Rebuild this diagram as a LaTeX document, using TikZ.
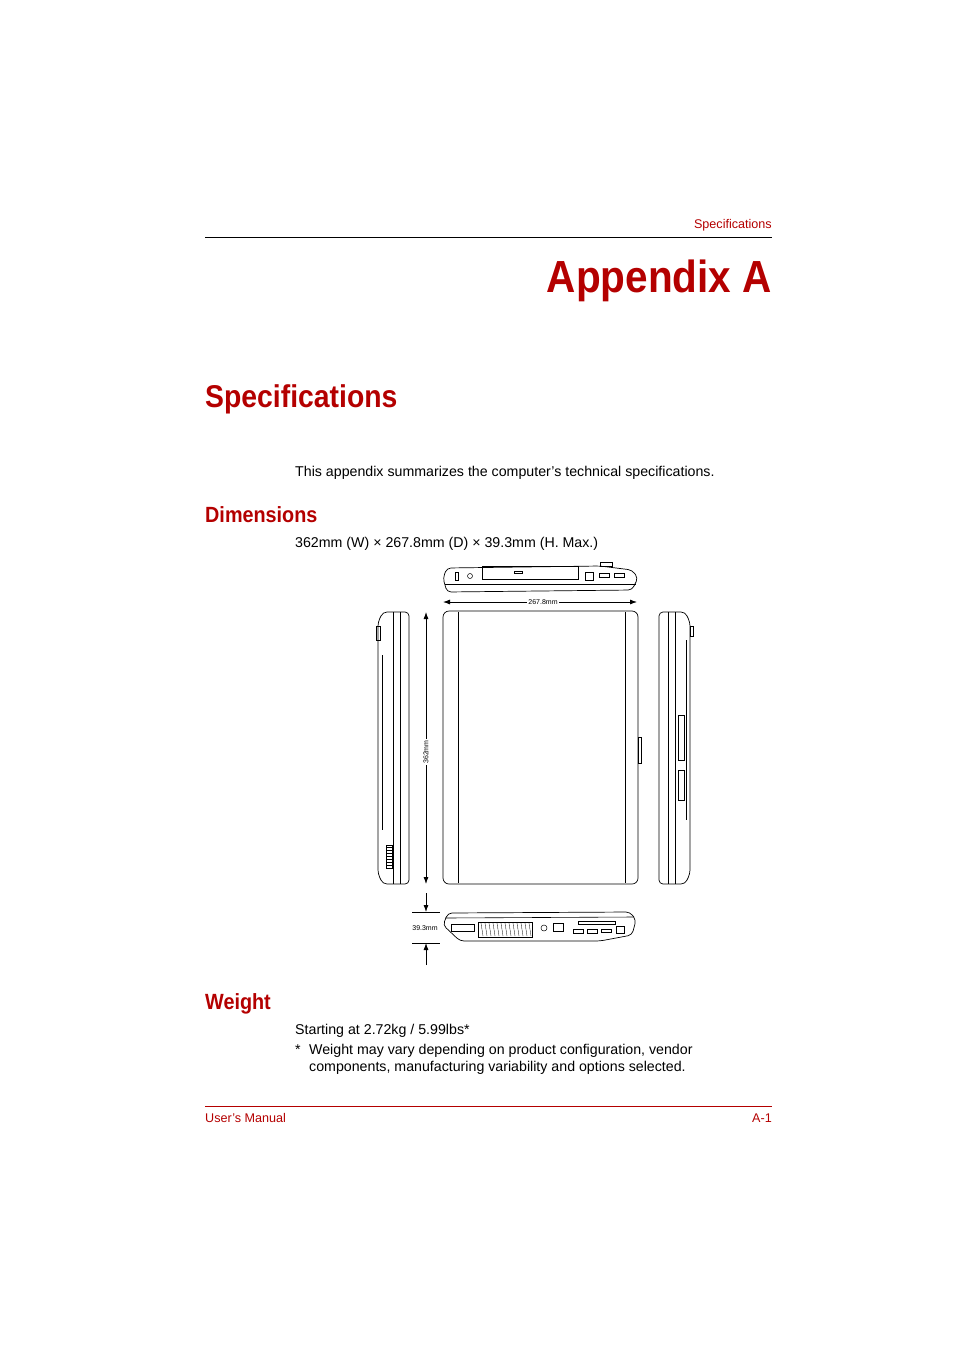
\documentclass[tikz,border=0pt]{standalone}
\usepackage{fontspec}
\setmainfont{Liberation Sans}
\newfontfamily\headfont[FakeStretch=0.9]{Liberation Sans}
\usetikzlibrary{arrows.meta}
\definecolor{tosred}{RGB}{180,0,0}
\begin{document}
\begin{tikzpicture}[x=1pt,y=-1pt,
  body/.style={anchor=base west,inner sep=0pt,font=\fontsize{14.2}{17}\selectfont},
  redhead/.style={anchor=base west,inner sep=0pt,text=tosred},
  dimtxt/.style={inner sep=1pt,fill=white,font=\fontsize{7}{8}\selectfont},
  dimarrow/.style={-{Latex[length=7pt,width=5pt]},line width=0.8pt},
  part/.style={line width=0.7pt,rounded corners=4pt}]
\useasboundingbox (0,0) rectangle (954,1351);
% header
\node[anchor=base east,inner sep=0pt,text=tosred,font=\fontsize{12.6}{14}\selectfont] (hdr) at (772,229) {Specifications};
\draw[line width=0.5pt] (205,237) -- (772,237);
\node[anchor=base east,inner sep=0pt,text=tosred,font=\headfont\fontsize{45}{50}\bfseries] (app) at (772,292) {Appendix A};
\node[redhead,font=\headfont\fontsize{31.5}{36}\bfseries] (spec) at (205,407) {Specifications};
\node[body] (intro) at (295,476) {This appendix summarizes the computer's technical specifications.};
\node[redhead,font=\headfont\fontsize{22}{26}\bfseries] (dim) at (205,522) {Dimensions};
\node[body] (dimtext) at (295,547) {362mm (W) × 267.8mm (D) × 39.3mm (H. Max.)};
% top edge view
\draw[part] (443,578) -- (447,568) -- (600,566) -- (632,570) -- (638,578) -- (632,590) -- (447,592) -- cycle;
\draw[line width=0.6pt] (445,584) -- (636,584);
\draw[line width=0.6pt] (482,579) rectangle (578,566);
\draw[line width=0.5pt] (455,572) rectangle (458,580);
\draw[line width=0.5pt] (470,576) circle (2.5);
\draw[line width=0.5pt] (514,571) rectangle (522,573);
\draw[line width=0.5pt] (585,572) rectangle (593,580);
\draw[line width=0.5pt] (599,573) rectangle (609,577);
\draw[line width=0.5pt] (614,573) rectangle (624,577);
\draw[line width=0.5pt] (600,566) rectangle (612,562);
% main view
\draw[part,rounded corners=6pt] (443,611) rectangle (638,884);
\draw[line width=0.5pt] (458,612) -- (458,883) (625,612) -- (625,883);
\draw[line width=0.5pt] (638,737) rectangle (641,763);
% left side view
\draw[part] (378,622) -- (383,612) -- (409,612) -- (409,884) -- (383,884) -- (378,874) -- cycle;
\draw[line width=0.5pt] (393,612) -- (393,884) (400,612) -- (400,884) (382,655) -- (382,830);
\draw[line width=0.5pt] (376,626) rectangle (380,640);
\draw[line width=0.4pt] (386,845) rectangle (392,868);
\foreach \yy in {847,850,...,866} \draw[line width=0.3pt] (386,\yy) -- (392,\yy);
% right side view
\draw[part] (659,612) -- (685,612) -- (690,622) -- (690,874) -- (685,884) -- (659,884) -- cycle;
\draw[line width=0.5pt] (668,612) -- (668,884) (675,612) -- (675,884) (686,640) -- (686,820);
\draw[line width=0.5pt] (690,626) rectangle (693,636);
\draw[line width=0.5pt] (678,715) rectangle (684,760);
\draw[line width=0.5pt] (678,770) rectangle (684,800);
% bottom edge view
\draw[part] (443,925) -- (448,913) -- (630,912) -- (636,920) -- (632,935) -- (600,941) -- (460,941) -- cycle;
\draw[line width=0.6pt] (445,918) -- (634,917);
\draw[line width=0.5pt] (451,924) rectangle (474,931);
\draw[line width=0.4pt] (478,922) rectangle (532,937);
\foreach \xx in {481,485,...,530} \draw[line width=0.3pt] (\xx,923) -- (\xx+2,936);
\draw[line width=0.5pt] (544,928) circle (3);
\draw[line width=0.5pt] (553,923) rectangle (563,931);
\draw[line width=0.5pt] (578,921) rectangle (615,924);
\draw[line width=0.5pt] (573,929) rectangle (583,933);
\draw[line width=0.5pt] (587,929) rectangle (597,933);
\draw[line width=0.5pt] (601,929) rectangle (611,932);
\draw[line width=0.5pt] (616,926) rectangle (624,933);
% dimension arrows
\coordinate (wl) at (443,602);
\coordinate (wr) at (637,602);
\draw[dimarrow] (540,602) -- (wl);
\draw[dimarrow] (540,602) -- (wr);
\node[dimtxt] (wlab) at (543,602) {267.8mm};
\coordinate (ht) at (426,612);
\coordinate (hb) at (426,884);
\draw[dimarrow] (426,750) -- (ht);
\draw[dimarrow] (426,750) -- (hb);
\node[dimtxt,rotate=90] (hlab) at (426,752) {362mm};
\coordinate (dt) at (426,912);
\coordinate (db) at (426,943);
\draw[line width=0.6pt] (412,912) -- (440,912) (412,943) -- (440,943);
\draw[dimarrow] (426,893) -- (dt);
\draw[dimarrow] (426,965) -- (db);
\node[dimtxt,fill=none] (dlab) at (425,928) {39.3mm};
% weight
\node[redhead,font=\headfont\fontsize{22}{26}\bfseries] (wt) at (205,1009) {Weight};
\node[body] (wttext) at (295,1034) {Starting at 2.72kg / 5.99lbs*};
\node[body] (star) at (295,1054) {*};
\node[body] (note1) at (309,1054) {Weight may vary depending on product configuration, vendor};
\node[body] (note2) at (309,1071) {components, manufacturing variability and options selected.};
% footer
\draw[tosred,line width=0.6pt] (205,1106) -- (772,1106);
\node[anchor=base west,inner sep=0pt,text=tosred,font=\fontsize{12.6}{14}\selectfont] (ftl) at (205,1122) {User’s Manual};
\node[anchor=base east,inner sep=0pt,text=tosred,font=\fontsize{12.6}{14}\selectfont] (ftr) at (772,1122) {A-1};
\end{tikzpicture}
\end{document}
